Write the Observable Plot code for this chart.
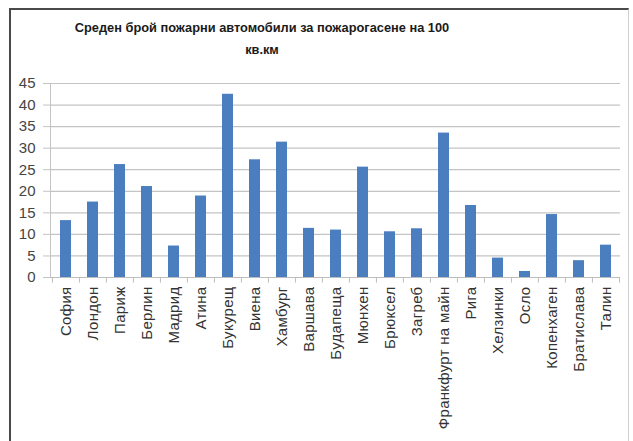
<!DOCTYPE html>
<html><head><meta charset="utf-8">
<script src="https://cdn.jsdelivr.net/npm/d3@7"></script>
<script src="https://cdn.jsdelivr.net/npm/@observablehq/plot@0.6"></script>
<style>
body{margin:0;background:#fff;}
#wrap{position:relative;width:633px;height:441px;overflow:hidden;background:#fff;font-family:"Liberation Sans",Arial,sans-serif;}
#frame{position:absolute;left:9px;top:8px;width:620px;height:440px;border-left:2px solid #4a4a4a;border-top:2px solid #4a4a4a;border-right:1px solid #d0d0d0;box-sizing:border-box;}
#title{position:absolute;left:12px;width:500px;top:17px;text-align:center;font-weight:bold;font-size:12.8px;line-height:22px;color:#1a1a1a;}
#chart{position:absolute;left:0;top:0;}
#chart svg g[aria-label="x-axis tick label"] text{letter-spacing:0.3px;}
</style>
</head><body>
<div id="wrap">
  <div id="frame"></div>
  <div id="title">Среден брой пожарни автомобили за пожарогасене на 100<br>кв.км</div>
  <div id="chart"></div>
</div>
<script>
const cities = ["София","Лондон","Париж","Берлин","Мадрид","Атина","Букурещ","Виена","Хамбург","Варшава","Будапеща","Мюнхен","Брюксел","Загреб","Франкфурт на майн","Рига","Хелзинки","Осло","Копенхаген","Братислава","Талин"];
const values = [13.2,17.5,26.2,21.1,7.3,18.9,42.5,27.3,31.4,11.4,11.0,25.6,10.6,11.3,33.5,16.7,4.5,1.4,14.6,3.9,7.5];
const yTicks = [0,5,10,15,20,25,30,35,40,45];

const data = cities.map((c, i) => ({city: c, value: values[i]}));
const W = 633, H = 441, mL = 50, mR = 13, mT = 83, mB = 164;
const step = (W - mL - mR) / cities.length;

const chart = Plot.plot({
  width: W, height: H,
  marginLeft: mL, marginRight: mR, marginTop: mT, marginBottom: mB,
  style: {fontFamily: '"Liberation Sans", Arial, sans-serif', background: "transparent", color: "#333"},
  x: {domain: cities, paddingInner: 0.6, paddingOuter: 0.3, label: null},
  y: {domain: [0, 45], label: null},
  marks: [
    Plot.gridY(yTicks, {stroke: "#c4c4c4", strokeOpacity: 1, strokeWidth: 1.2}),
    Plot.axisY(yTicks, {tickSize: 7, tickPadding: 8, fontSize: 15, stroke: "#c4c4c4", fill: "#444", label: null}),
    Plot.frame({anchor: "left", stroke: "#c4c4c4"}),
    Plot.barY(data, {x: "city", y: "value", fill: "#4a7ebf"}),
    Plot.ruleY([0], {stroke: "#bdbdbd"}),
    Plot.ruleX(data, {x: "city", y1: 0, y2: -1.3, dx: -step / 2, stroke: "#bdbdbd"}),
    Plot.ruleX(data.slice(-1), {x: "city", y1: 0, y2: -1.3, dx: step / 2, stroke: "#bdbdbd"}),
    Plot.axisX({tickRotate: -90, tickSize: 0, tickPadding: 9, fontSize: 15, fill: "#333", label: null})
  ]
});
document.getElementById("chart").appendChild(chart);
</script>
</body></html>
